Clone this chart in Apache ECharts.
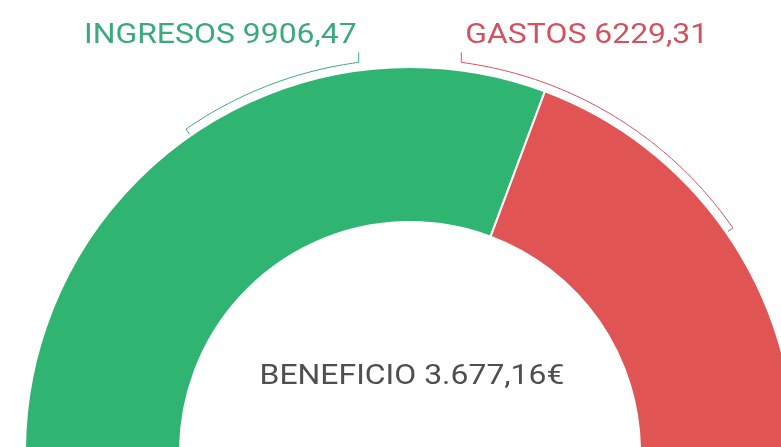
<!DOCTYPE html>
<html>
<head>
<meta charset="utf-8">
<script src="https://cdn.jsdelivr.net/npm/echarts@6/dist/echarts.min.js"></script>
<style>
  html, body { margin: 0; padding: 0; background: #fff; }
  #chart { width: 781px; height: 447px; }
</style>
</head>
<body>
<div id="chart"></div>
<script>
const categories = ['INGRESOS', 'GASTOS'];
const values = [9906.47, 6229.31];
const sliceColors = ['#2fb571', '#e05454'];
const labelColors = ['#3aaa7c', '#d2535f'];
const beneficio = 3677.16;

// half ring layout (px)
const CX = 410, CY = 452, R_IN = 230, R_OUT = 385;
const R_BRACKET = 393;
const LABEL_GAP = 7.5; // brackets stop this many degrees off the top
const FONT = '28px Roboto';
const STRETCH = 1.14; // text in the original is drawn a bit wide

const total = values.reduce((a, b) => a + b, 0);

function fmt(v) { return v.toFixed(2).replace('.', ','); }
function fmtMoney(v) {
  const [i, d] = v.toFixed(2).split('.');
  return i.replace(/\B(?=(\d{3})+(?!\d))/g, '.') + ',' + d + '€';
}

// slice angles in degrees, starting at the left and going clockwise
let acc = 0;
const bracketData = values.map((v, i) => {
  const a0 = 180 - acc / total * 180;
  acc += v;
  const a1 = 180 - acc / total * 180;
  return [i, a0, a1];
});

function pt(r, deg) {
  const t = deg * Math.PI / 180;
  return [CX + r * Math.cos(t), CY - r * Math.sin(t)];
}

const chart = echarts.init(document.getElementById('chart'));
chart.setOption({
  animation: false,
  series: [
    {
      type: 'pie',
      center: [CX, CY],
      radius: [R_IN, R_OUT],
      startAngle: 180,
      silent: true,
      label: { show: false },
      labelLine: { show: false },
      itemStyle: { borderColor: '#fff', borderWidth: 2 },
      data: categories
        .map((c, i) => ({ name: c, value: values[i], itemStyle: { color: sliceColors[i] } }))
        .concat([{ name: 'hidden', value: total, itemStyle: { color: 'none', borderWidth: 0 } }])
    },
    {
      // brackets + labels above the ring
      type: 'custom',
      coordinateSystem: 'none',
      silent: true,
      data: bracketData,
      renderItem: function (params, api) {
        const i = api.value(0);
        const a0 = api.value(1), a1 = api.value(2);
        const mid = (a0 + a1) / 2;
        const end = i === 0 ? 90 + LABEL_GAP : 90 - LABEL_GAP;
        const pts = [pt(R_OUT + 2, mid)];
        const n = 60;
        for (let k = 0; k <= n; k++) pts.push(pt(R_BRACKET, mid + (end - mid) * k / n));
        const e = pt(R_BRACKET, end);
        pts.push([e[0], e[1] - 10]);
        return {
          type: 'group',
          children: [
            { type: 'polyline', shape: { points: pts }, style: { stroke: labelColors[i], lineWidth: 1, fill: null } },
            {
              type: 'text', x: e[0] + (i === 0 ? -2 : 4), y: e[1] - 12, scaleX: STRETCH,
              style: {
                text: categories[i] + ' ' + fmt(values[i]), fill: labelColors[i],
                font: FONT, align: i === 0 ? 'right' : 'left', verticalAlign: 'bottom'
              }
            }
          ]
        };
      }
    }
  ],
  graphic: [{
    type: 'text', x: CX + 2, y: 377, scaleX: STRETCH,
    style: { text: 'BENEFICIO ' + fmtMoney(beneficio), fill: '#4f4f4f', font: FONT, align: 'center', verticalAlign: 'middle' }
  }]
});
</script>
</body>
</html>
